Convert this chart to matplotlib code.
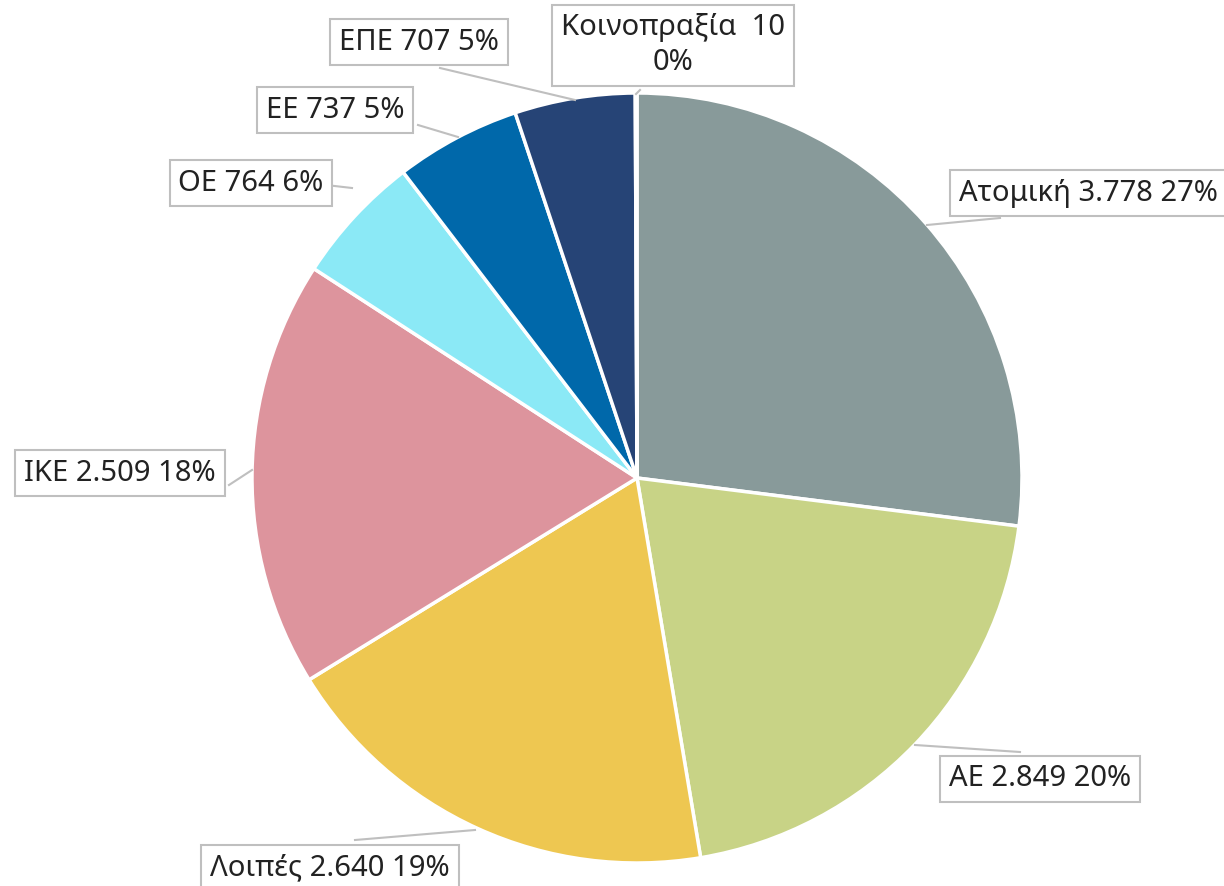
import matplotlib.pyplot as plt

plt.rcParams['font.family'] = ['Noto Sans', 'DejaVu Sans']

labels = ['Ατομική', 'ΑΕ', 'Λοιπές', 'ΙΚΕ', 'ΟΕ', 'ΕΕ', 'ΕΠΕ', 'Κοινοπραξία']
values = [3778, 2849, 2640, 2509, 764, 737, 707, 10]
pcts = ['27%', '20%', '19%', '18%', '6%', '5%', '5%', '0%']
colors = ['#889A9A', '#C8D386', '#EEC751', '#DD949D', '#8BE9F6', '#0068AA', '#264476', '#DCE3E3']

# label box centres and leader lines, in pixels from top-left
label_pos = [(1088, 193), (1040, 779), (330, 868), (120, 473),
             (251, 183), (335, 110), (419, 42), (673, 45)]
leaders = [[(1000, 218), (927, 225)], [(1020, 752), (915, 745)],
           [(355, 840), (475, 830)], [(229, 485), (252, 470)],
           [(300, 182), (352, 188)], [(418, 125), (458, 137)],
           [(440, 68), (575, 100)], [(640, 90), (636, 94)]]

W, H = 1224, 886
fig = plt.figure(figsize=(W / 100, H / 100), dpi=100)
ax = fig.add_axes([0, 0, 1, 1])

ax.pie(values, colors=colors, startangle=90, counterclock=False,
       center=(637, H - 478), radius=385,
       wedgeprops=dict(edgecolor='white', linewidth=2.5))
ax.set_xlim(0, W)
ax.set_ylim(0, H)
ax.set_aspect('equal')
ax.axis('off')

for i, lab in enumerate(labels):
    x, y = label_pos[i]
    (x0, y0), (x1, y1) = leaders[i]
    ax.plot([x0, x1], [H - y0, H - y1], color='#BFBFBF', lw=1.5, zorder=1)
    num = f'{values[i]:,}'.replace(',', '.')
    if lab == 'Κοινοπραξία':
        txt = f'{lab}  {num}\n{pcts[i]}'
    else:
        txt = f'{lab} {num} {pcts[i]}'
    ax.text(x, H - y, txt, ha='center', va='center', fontsize=21,
            color='#222222', linespacing=1.25, zorder=5,
            bbox=dict(boxstyle='square,pad=0.3', fc='white', ec='#BFBFBF', lw=1.5))

fig.savefig('out.png', dpi=100)
